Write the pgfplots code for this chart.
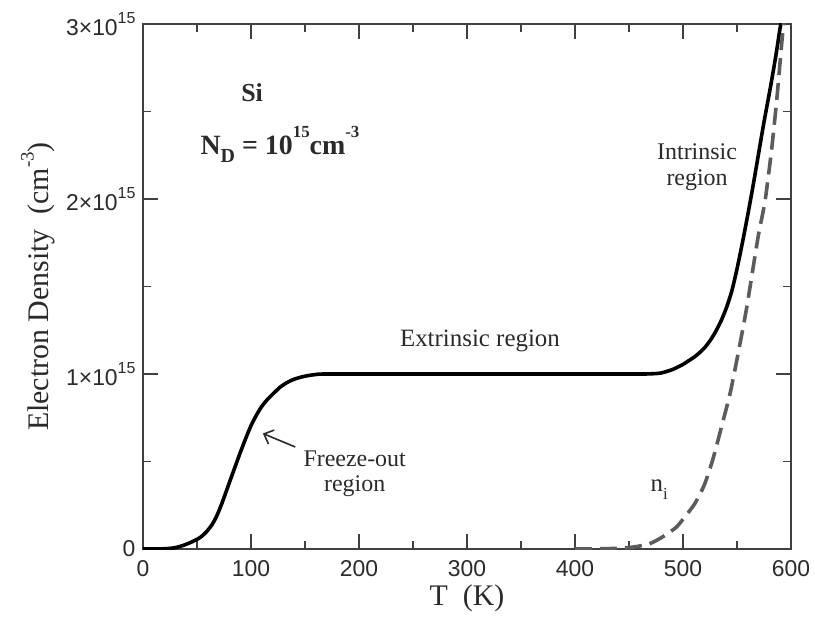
\documentclass[border=0pt]{standalone}
\usepackage{pgfplots}
\pgfplotsset{compat=1.18}
\usepackage{fontspec}
\setmainfont{Liberation Serif}
\newfontfamily\tickfont{Liberation Sans}
\usetikzlibrary{arrows.meta}

\definecolor{axgray}{HTML}{404040}
\definecolor{txtgray}{HTML}{2A2A2A}
\definecolor{nigray}{HTML}{5C5C5C}

% y tick label a x 10^15
\newcommand{\sci}[1]{#1×10\raisebox{0.55em}{\fontsize{16}{16}\selectfont 15}}

\begin{document}
\begin{tikzpicture}
\begin{axis}[
    name=ax,
    scale only axis,
    width=648bp, height=525bp,
    xmin=0, xmax=600,
    ymin=0, ymax=3,   % in units of 1e15 cm^-3
    xtick={0,100,200,300,400,500,600},
    xticklabels={0,100,200,300,400,500,600},
    ytick={0,1,2,3},
    yticklabels={0,\sci{1},\sci{2},\sci{3}},
    minor x tick num=1,
    minor y tick num=1,
    tick align=inside,
    major tick length=15bp,
    minor tick length=8bp,
    axis line style={axgray, line width=1.5bp},
    every tick/.style={axgray, line width=1.5bp},
    ticklabel style={font=\tickfont\fontsize{23}{23}\selectfont, text=txtgray},
    xticklabel style={yshift=-8bp},
    yticklabel style={xshift=-4bp},
    xlabel={T~~(K)},
    ylabel={Electron Density~~(cm\raisebox{0.5em}{\fontsize{19}{19}\selectfont -3})},
    label style={font=\fontsize{30}{30}\selectfont, text=txtgray},
    xlabel style={at={(axis description cs:0.5,-0.094)}, anchor=center},
    ylabel style={at={(axis description cs:-0.162,0.5)}, anchor=center},
]

% electron density n(T)
\addplot[black, line width=3.6bp, smooth, tension=0.4] coordinates {
(0,0) (10,0) (22,0.002) (30,0.008) (37,0.02) (45,0.04) (53,0.066)
(59,0.10) (64,0.14) (68,0.185) (73,0.26) (80,0.38) (85,0.465) (90,0.55)
(95,0.63) (100,0.705) (105,0.765) (110,0.815) (115,0.853) (121,0.89)
(127,0.925) (133,0.95) (139,0.968) (145,0.98) (152,0.99) (160,0.997)
(170,1.0) (250,1.0) (350,1.0) (440,1.0) (465,1.0) (479,1.005)
(490,1.025) (500,1.055) (505,1.075) (510,1.095) (515,1.12) (520,1.15)
(525,1.19) (530,1.24) (535,1.30) (540,1.375) (545,1.47) (550,1.60)
(555,1.75) (560,1.91) (565,2.08) (570,2.26) (575,2.44) (581,2.64)
(586,2.82) (590,2.98) (594,3.12)
};

% intrinsic density n_i(T)
\addplot[nigray, line width=3.6bp, dash pattern=on 17bp off 8bp, smooth, tension=0.4] coordinates {
(400,0) (420,0.001) (440,0.004) (455,0.012) (469,0.03) (480,0.065)
(493,0.12) (500,0.17) (511,0.26) (520,0.37) (528,0.52) (537,0.73)
(544,0.90) (553,1.18) (559,1.38) (565,1.61) (570,1.80) (576,1.99)
(582,2.28) (587,2.58) (592,2.93) (597,3.25)
};

\node[font=\bfseries\fontsize{26}{26}\selectfont, text=txtgray] at (axis cs:101,2.61) {Si};
\node[font=\bfseries\fontsize{28}{28}\selectfont, text=txtgray, anchor=west] at (axis cs:50,2.31)
  {N\raisebox{-0.3em}{\fontsize{20}{20}\selectfont D} = 10\raisebox{0.6em}{\fontsize{17}{17}\selectfont 15}cm\raisebox{0.6em}{\fontsize{17}{17}\selectfont -3}};
\node[font=\fontsize{25}{25}\selectfont, text=txtgray] at (axis cs:312,1.19) {Extrinsic region};
\node[font=\fontsize{24}{26}\selectfont, text=txtgray, align=center] at (axis cs:196,0.43) {Freeze-out\\region};
\node[font=\fontsize{24}{26}\selectfont, text=txtgray, align=center] at (axis cs:513,2.18) {Intrinsic\\region};
\node[font=\fontsize{25}{25}\selectfont, text=txtgray] at (axis cs:478,0.34) {n\raisebox{-0.35em}{\fontsize{17}{17}\selectfont i}};
\draw[txtgray, line width=1.6bp, -{Straight Barb[length=8bp,width=15bp]}] (axis cs:141,0.583) -- (axis cs:111,0.66);

\end{axis}
\pgfresetboundingbox
\path[use as bounding box] ([xshift=-143bp,yshift=-69bp]ax.south west) rectangle ([xshift=24bp,yshift=24bp]ax.north east);
\end{tikzpicture}
\end{document}
